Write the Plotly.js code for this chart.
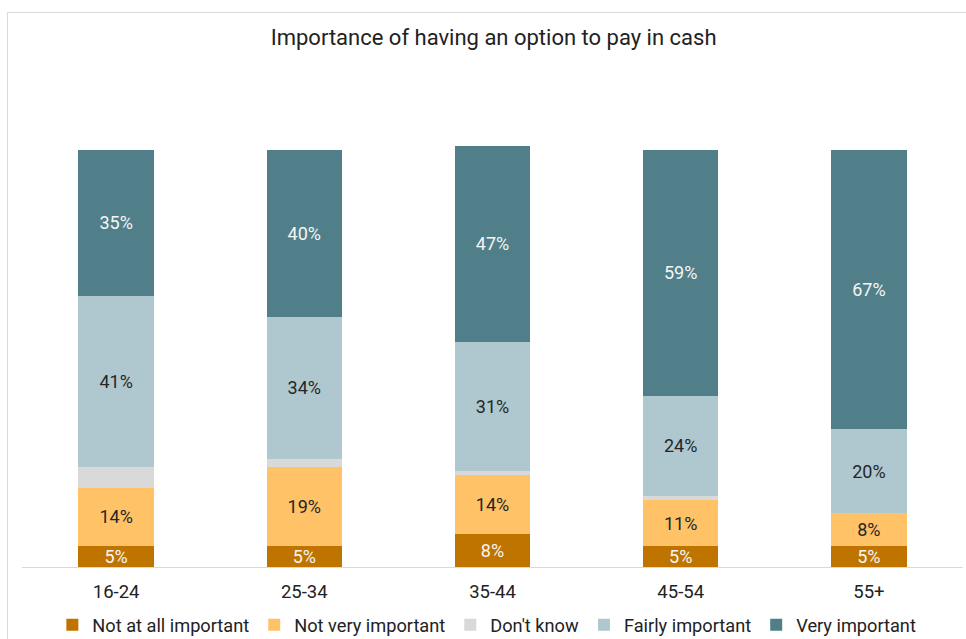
<!DOCTYPE html>
<html>
<head>
<meta charset="utf-8">
<script src="https://cdn.plot.ly/plotly-3.0.1.min.js"></script>
<style>
  html, body { margin: 0; padding: 0; background: #ffffff; }
  #frame { position: absolute; left: 7px; top: 12px; width: 970px; height: 640px; border: 1px solid #d9d9d9; box-sizing: border-box; }
  #chart { position: absolute; left: 0; top: 0; width: 966px; height: 639px; }
</style>
</head>
<body>
<div id="frame"></div>
<div id="chart"></div>
<script>
const categories = ['16-24', '25-34', '35-44', '45-54', '55+'];
const notAtAll = [5, 5, 8, 5, 5];
const notVery = [14, 19, 14, 11, 8];
const dontKnow = [5, 2, 1, 1, 0];
const fairly = [41, 34, 31, 24, 20];
const very = [35, 40, 47, 59, 67];

const seriesNames = ['Not at all important', 'Not very important', "Don't know", 'Fairly important', 'Very important'];
const seriesValues = [notAtAll, notVery, dontKnow, fairly, very];
const seriesColors = ['#C07400', '#FFC266', '#D9D9D9', '#AFC8CF', '#517F89'];
const textColors = ['#F5F5F5', '#262626', '#262626', '#262626', '#F5F5F5'];
const showText = [true, true, false, true, true];

const traces = seriesNames.map((name, i) => ({
  type: 'bar',
  name: name,
  x: categories,
  y: seriesValues[i],
  marker: { color: seriesColors[i], line: { width: 0 } },
  texttemplate: showText[i] ? '%{y}%' : '',
  textposition: showText[i] ? 'inside' : 'none',
  insidetextanchor: 'middle',
  constraintext: 'none',
  textfont: { family: 'Roboto, sans-serif', size: 18, color: textColors[i] },
  hoverinfo: 'skip'
}));

const layout = {
  width: 966,
  height: 639,
  barmode: 'stack',
  bargap: 0.6,
  paper_bgcolor: 'rgba(0,0,0,0)',
  plot_bgcolor: 'rgba(0,0,0,0)',
  margin: { l: 22, r: 3, t: 108, b: 72 },
  font: { family: 'Roboto, sans-serif', size: 18, color: '#222222' },
  title: {
    text: 'Importance of having an option to pay in cash',
    font: { family: 'Roboto, sans-serif', size: 22, color: '#222222' },
    x: 0.511, xanchor: 'center', y: 0.942, yanchor: 'middle'
  },
  xaxis: {
    type: 'category',
    showline: true, linecolor: '#d9d9d9', linewidth: 1,
    ticks: '', showgrid: false, zeroline: false,
    ticklabelstandoff: 8,
    tickfont: { family: 'Roboto, sans-serif', size: 18.5, color: '#222222' }
  },
  yaxis: {
    range: [0, 110], visible: false, showgrid: false, zeroline: false
  },
  legend: {
    orientation: 'h', x: 0.504, xanchor: 'center',
    xref: 'container', yref: 'container', y: 0.022, yanchor: 'middle',
    bgcolor: 'rgba(0,0,0,0)',
    traceorder: 'normal',
    font: { family: 'Roboto, sans-serif', size: 18.2, color: '#222222' },
    itemwidth: 30
  },
  showlegend: true
};

Plotly.newPlot('chart', traces, layout, { displayModeBar: false, staticPlot: true });
</script>
</body>
</html>
